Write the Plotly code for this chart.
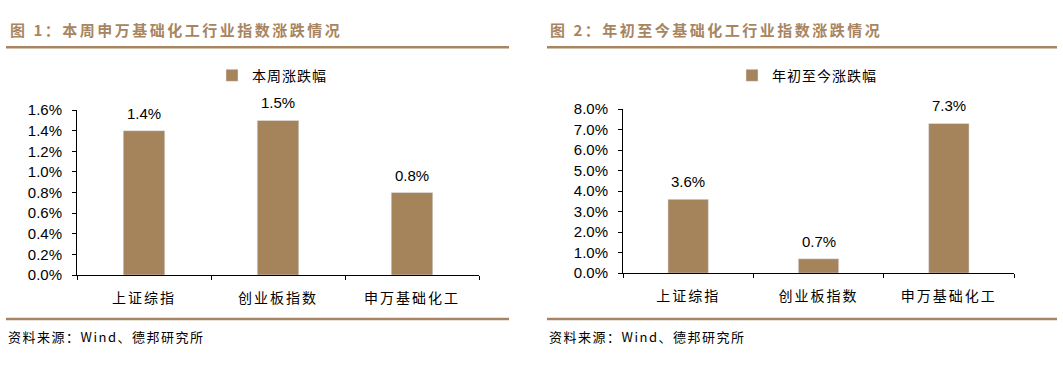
import plotly.graph_objects as go

categories = ["上证综指", "创业板指数", "申万基础化工"]
weekly_change = [0.014, 0.015, 0.008]
ytd_change = [0.036, 0.007, 0.073]
weekly_ticks = [0.0, 0.002, 0.004, 0.006, 0.008, 0.010, 0.012, 0.014, 0.016]
ytd_ticks = [0.0, 0.01, 0.02, 0.03, 0.04, 0.05, 0.06, 0.07, 0.08]
title_left = "图 1：本周申万基础化工行业指数涨跌情况"
title_right = "图 2：年初至今基础化工行业指数涨跌情况"
source_text = "资料来源：Wind、德邦研究所"

W, H = 1063, 366
BAR = "#a5835b"
ACCENT = "#a78562"
CJK = "Noto Sans CJK SC"
LAT = "Liberation Sans, Arial"

def px(x):
    return x / W

def py(y):
    return 1 - y / H

def spaced(t, s):
    return '<span style="letter-spacing:%spx">%s</span>' % (s, t)

fig = go.Figure()
fig.add_trace(go.Bar(
    x=categories, y=weekly_change, name=spaced("本周涨跌幅", 1), marker_color=BAR,
    width=0.31, xaxis="x", yaxis="y", legend="legend"))
fig.add_trace(go.Bar(
    x=categories, y=ytd_change, name=spaced("年初至今涨跌幅", 1), marker_color=BAR,
    width=0.31, xaxis="x2", yaxis="y2", legend="legend2"))

axis_common = dict(showline=True, linecolor="#000", linewidth=1, showgrid=False,
                   zeroline=False, ticks="outside", ticklen=4, tickcolor="#000")

fig.update_layout(
    width=W, height=H, margin=dict(l=0, r=0, t=0, b=0),
    paper_bgcolor="white", plot_bgcolor="white",
    font=dict(family=CJK, color="#000"),
    xaxis=dict(domain=[px(77), px(479)], anchor="y", tickson="boundaries",
               tickfont=dict(family=CJK, size=14), ticklabelstandoff=10,
               tickvals=categories, ticktext=[spaced(c, 2) for c in categories],
               **axis_common),
    yaxis=dict(domain=[py(279), py(106)], anchor="x", range=[0, 0.016],
               tickvals=weekly_ticks, tickformat=".1%", ticklabelstandoff=7,
               tickfont=dict(family=LAT, size=15), **axis_common),
    xaxis2=dict(domain=[px(623), px(1014)], anchor="y2", tickson="boundaries",
                tickfont=dict(family=CJK, size=14), ticklabelstandoff=10,
                tickvals=categories, ticktext=[spaced(c, 2) for c in categories],
                **axis_common),
    yaxis2=dict(domain=[py(277), py(105)], anchor="x2", range=[0, 0.08],
                tickvals=ytd_ticks, tickformat=".1%", ticklabelstandoff=7,
                tickfont=dict(family=LAT, size=15), **axis_common),
    legend=dict(x=px(212), y=py(70), xanchor="left", yanchor="middle",
                orientation="h", font=dict(family=CJK, size=14),
                bgcolor="rgba(0,0,0,0)", itemwidth=30),
    legend2=dict(x=px(732), y=py(70), xanchor="left", yanchor="middle",
                 orientation="h", font=dict(family=CJK, size=14),
                 bgcolor="rgba(0,0,0,0)", itemwidth=30),
    showlegend=True,
)

shapes = []
for x0, x1 in [(6, 509), (547, 1057)]:
    shapes.append(dict(type="line", xref="paper", yref="paper", x0=px(x0), x1=px(x1),
                       y0=py(40), y1=py(40), line=dict(color=ACCENT, width=2.5)))
    shapes.append(dict(type="line", xref="paper", yref="paper", x0=px(x0), x1=px(x1),
                       y0=py(325), y1=py(325), line=dict(color=ACCENT, width=2.5)))
fig.update_layout(shapes=shapes)

annotations = []
for xr, yr, vals in [("x", "y", weekly_change), ("x2", "y2", ytd_change)]:
    for c, v in zip(categories, vals):
        annotations.append(dict(xref=xr, yref=yr, x=c, y=v, yanchor="bottom",
                                yshift=7, showarrow=False, text="%.1f%%" % (v * 100),
                                font=dict(family=LAT, size=15, color="#000")))
for x, t in [(8, title_left), (548, title_right)]:
    annotations.append(dict(xref="paper", yref="paper", x=px(x), y=py(22), xanchor="left",
                            yanchor="middle", showarrow=False,
                            text="<b>" + spaced(t, 2.5) + "</b>",
                            font=dict(family=CJK, size=15, color=ACCENT)))
for x in [6, 547]:
    annotations.append(dict(xref="paper", yref="paper", x=px(x), y=py(343), xanchor="left",
                            yanchor="middle", showarrow=False, text=spaced(source_text, 1.5),
                            font=dict(family=CJK, size=13, color="#000")))
fig.update_layout(annotations=annotations)

fig.write_html("out.html")
